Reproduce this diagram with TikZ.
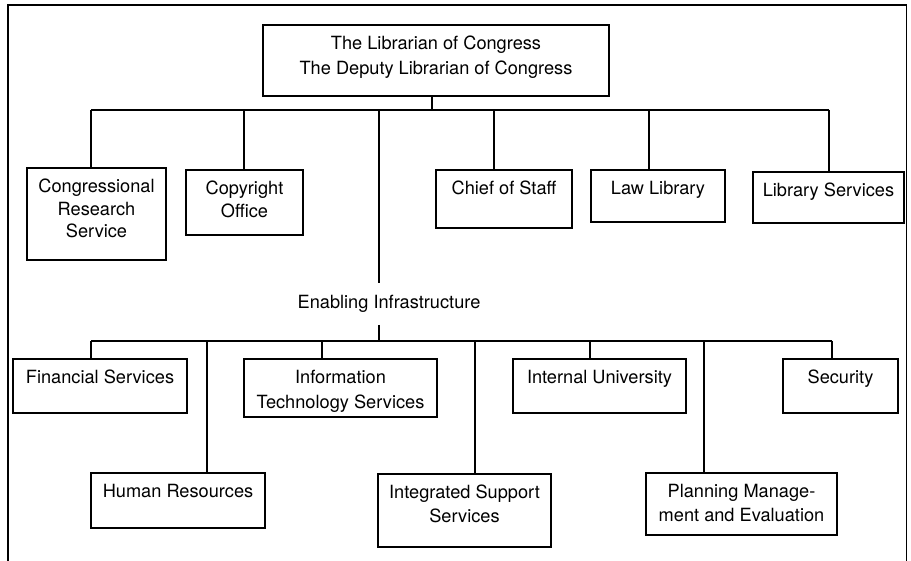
\documentclass[tikz,border=0pt]{standalone}
\usepackage{fontspec}
\setmainfont{TeX Gyre Heros}
\begin{document}
\begin{tikzpicture}[x=1pt,y=-1pt,
  every path/.style={line width=1.6pt},
  box/.style={draw,line width=1.6pt,inner sep=0pt,rectangle},
  txt/.style={inner sep=0pt,align=center,anchor=north,yshift=-11pt,font=\fontsize{18.2}{23.5}\selectfont},
  line/.style={draw,line width=1.6pt,line cap=rect}]
\useasboundingbox (0,0) rectangle (911,561);
% frame
\draw[line width=1.8pt] (8,561) -- (8,5) -- (906.5,5) -- (906.5,561);
% boxes
\node[box,minimum width=346pt,minimum height=71pt] (top) at (436,60.5) {};
\node[box,minimum width=139pt,minimum height=92pt] (crs) at (96.5,214) {};
\node[box,minimum width=117pt,minimum height=65pt] (cop) at (244.5,202.5) {};
\node[box,minimum width=136pt,minimum height=58pt] (cos) at (504,199) {};
\node[box,minimum width=134pt,minimum height=52pt] (law) at (658,196) {};
\node[box,minimum width=151pt,minimum height=51pt] (lib) at (828.5,197.5) {};
\node[box,minimum width=174pt,minimum height=54pt] (fin) at (100,386) {};
\node[box,minimum width=174pt,minimum height=55pt] (hr) at (178,500.5) {};
\node[box,minimum width=193pt,minimum height=58pt] (its) at (340.5,388) {};
\node[box,minimum width=173pt,minimum height=73pt] (iss) at (464.5,510.5) {};
\node[box,minimum width=173pt,minimum height=54pt] (iu) at (599.5,386) {};
\node[box,minimum width=191pt,minimum height=62pt] (pme) at (741.5,504) {};
\node[box,minimum width=115pt,minimum height=54pt] (sec) at (840.5,386) {};
% texts
\node[txt,font=\fontsize{18.2}{25}\selectfont] (topt) at (top.north) {The Librarian of Congress\\The Deputy Librarian of Congress};
\node[txt,font=\fontsize{18.2}{22.5}\selectfont] (crst) at (crs.north) {Congressional\\Research\\Service};
\node[txt,font=\fontsize{18.2}{22.5}\selectfont] (copt) at (cop.north) {Copyright\\Office};
\node[txt] (cost) at (cos.north) {Chief of Staff};
\node[txt] (lawt) at (law.north) {Law Library};
\node[txt] (libt) at (lib.north) {Library Services};
\node[txt] (fint) at (fin.north) {Financial Services};
\node[txt] (hrt) at (hr.north) {Human Resources};
\node[txt,font=\fontsize{18.2}{25}\selectfont] (itst) at (its.north) {Information\\Technology Services};
\node[txt,font=\fontsize{18.2}{24}\selectfont] (isst) at (iss.north) {Integrated Support\\Services};
\node[txt] (iut) at (iu.north) {Internal University};
\node[txt,font=\fontsize{18.2}{24}\selectfont] (pmet) at (pme.north) {Planning Manage-\\ment and Evaluation};
\node[txt] (sect) at (sec.north) {Security};
\node[inner xsep=0pt,inner ysep=11.5pt,font=\fontsize{18.2}{22}\selectfont] (infra) at (389,304) {Enabling Infrastructure};
% upper bus
\coordinate (t0) at (432,110);
\coordinate (a1) at (91,110);
\coordinate (a2) at (244,110);
\coordinate (ei) at (379,110);
\coordinate (a3) at (494,110);
\coordinate (a4) at (649,110);
\coordinate (a5) at (829,110);
\draw (a1) -- (a5);
\draw (top.south -| t0) -- (t0);
\draw (a1) -- (crs.north -| a1);
\draw (a2) -- (cop.north -| a2);
\draw (a3) -- (cos.north -| a3);
\draw (a4) -- (law.north -| a4);
\draw (a5) -- (lib.north -| a5);
\draw (ei) -- (ei |- infra.north);
% lower bus
\coordinate (e2) at (379,341);
\coordinate (b1) at (91,341);
\coordinate (b2) at (207,341);
\coordinate (b3) at (322,341);
\coordinate (b4) at (475,341);
\coordinate (b5) at (590,341);
\coordinate (b6) at (704,341);
\coordinate (b7) at (832,341);
\draw (b1) -- (b7);
\draw (e2 |- infra.south) -- (e2);
\draw (b1) -- (fin.north -| b1);
\draw (b2) -- (hr.north -| b2);
\draw (b3) -- (its.north -| b3);
\draw (b4) -- (iss.north -| b4);
\draw (b5) -- (iu.north -| b5);
\draw (b6) -- (pme.north -| b6);
\draw (b7) -- (sec.north -| b7);
\end{tikzpicture}
\end{document}
